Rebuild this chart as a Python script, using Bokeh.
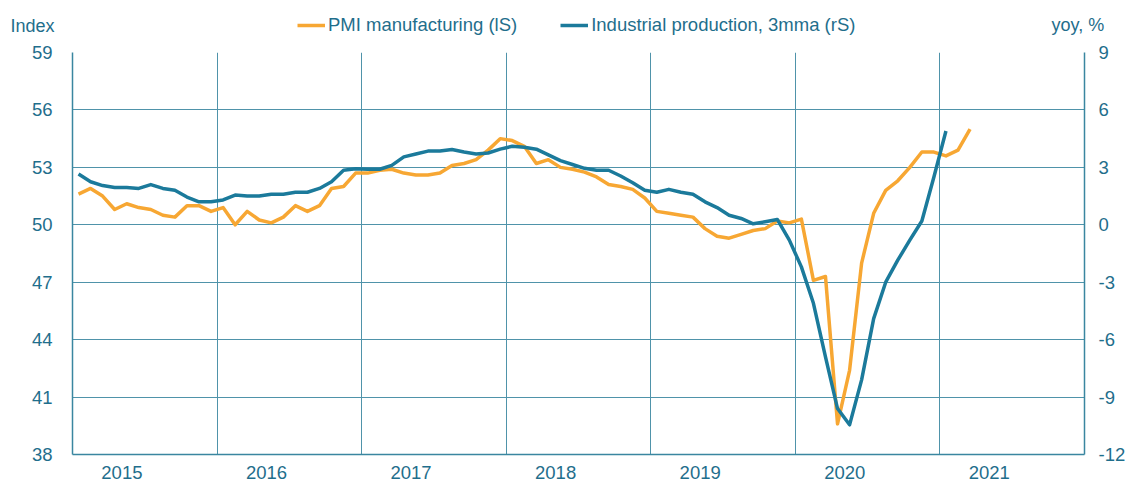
from bokeh.plotting import figure
from bokeh.layouts import column
from bokeh.models import (Range1d, LinearAxis, FixedTicker, Legend, LegendItem, Label)
from bokeh.embed import file_html
from bokeh.resources import INLINE

# ---------------- data ----------------
years = ["2015", "2016", "2017", "2018", "2019", "2020", "2021"]

# PMI manufacturing (left scale), monthly from Jan 2015
pmi = [51.6, 51.9, 51.5, 50.8, 51.1, 50.9, 50.8, 50.5, 50.4, 51.0, 51.0, 50.7,
       50.9, 50.0, 50.7, 50.25, 50.1, 50.4, 51.0, 50.7, 51.0, 51.9, 52.0, 52.7,
       52.7, 52.85, 52.9, 52.7, 52.6, 52.6, 52.7, 53.1, 53.2, 53.4, 53.9, 54.5,
       54.4, 54.1, 53.2, 53.4, 53.0, 52.9, 52.75, 52.5, 52.1, 52.0, 51.85, 51.4,
       50.7, 50.6, 50.5, 50.4, 49.8, 49.4, 49.3, 49.5, 49.7, 49.8, 50.2, 50.1,
       50.3, 47.1, 47.3, 39.6, 42.4, 48.0, 50.6, 51.8, 52.3, 53.0, 53.8, 53.8,
       53.6, 53.9, 55.0]

# Industrial production, 3mma, yoy % (right scale), monthly from Jan 2015
ip = [2.65, 2.25, 2.05, 1.95, 1.95, 1.9, 2.1, 1.9, 1.8, 1.45, 1.2, 1.2,
      1.3, 1.55, 1.5, 1.5, 1.6, 1.6, 1.7, 1.7, 1.9, 2.25, 2.85, 2.93,
      2.9, 2.9, 3.1, 3.55, 3.7, 3.85, 3.85, 3.93, 3.8, 3.7, 3.75, 3.95,
      4.1, 4.05, 3.95, 3.65, 3.35, 3.15, 2.95, 2.85, 2.85, 2.55, 2.2, 1.8,
      1.7, 1.85, 1.7, 1.6, 1.2, 0.9, 0.5, 0.33, 0.05, 0.16, 0.28, -0.8,
      -2.2, -4.1, -6.9, -9.6, -10.45, -8.1, -4.9, -3.0, -1.85, -0.8, 0.2, 2.5,
      4.9]

series_names = ["PMI manufacturing (lS)", "Industrial production, 3mma (rS)"]
left_ticks = [38, 41, 44, 47, 50, 53, 56, 59]
right_ticks = [-12, -9, -6, -3, 0, 3, 6, 9]

month_pmi = list(range(len(pmi)))
month_ip = list(range(len(ip)))

# ---------------- style ----------------
TEXT = "#1F6E8C"
GRID = "#4F93AA"
AXIS = "#3A86A0"
ORANGE = "#F7A733"
BLUE = "#1B7A9B"
FONT = "Liberation Sans"
FS = "18.5px"
W = 1130
HEAD_H = 40
NAN = float("nan")

# ---------------- header strip: unit captions + legend ----------------
head = figure(width=W, height=HEAD_H, output_backend="svg", toolbar_location=None,
              x_range=Range1d(0, W), y_range=Range1d(0, HEAD_H),
              x_axis_type=None, y_axis_type=None,
              min_border=0, min_border_left=0, min_border_right=0,
              min_border_top=0, min_border_bottom=0)
head.frame_align = False
head.outline_line_color = None
head.background_fill_color = "white"
head.border_fill_color = "white"
head.grid.visible = False

# legend keys (no visible data of their own)
k_pmi = head.line(x=[NAN], y=[NAN], line_color=ORANGE, line_width=3.5)
k_ip = head.line(x=[NAN], y=[NAN], line_color=BLUE, line_width=3.5)

legend = Legend(items=[LegendItem(label=series_names[0], renderers=[k_pmi]),
                       LegendItem(label=series_names[1], renderers=[k_ip])],
                orientation="horizontal", location=(297, 4),
                glyph_width=28, glyph_height=22, label_height=22,
                label_standoff=3, spacing=43,
                padding=0, margin=0, border_line_color=None,
                background_fill_alpha=0,
                label_text_font=FONT, label_text_font_size=FS,
                label_text_color=TEXT)
head.add_layout(legend)

head.add_layout(Label(x=10, y=15, text="Index", text_align="left",
                      text_baseline="middle", text_font=FONT, text_font_size="18px",
                      text_color=TEXT))
head.add_layout(Label(x=1051, y=16, text="yoy, %", text_align="left",
                      text_baseline="middle", text_font=FONT, text_font_size="18px",
                      text_color=TEXT))

# ---------------- main chart ----------------
p = figure(width=W, height=482 - HEAD_H, output_backend="svg", toolbar_location=None,
           x_range=Range1d(-0.5, 83.5), y_range=Range1d(38, 59),
           min_border_left=72, min_border_right=46, min_border_top=52 - HEAD_H,
           min_border_bottom=28)
p.frame_align = False
p.extra_y_ranges = {"ip": Range1d(-12, 9)}
p.outline_line_color = None
p.background_fill_color = "white"
p.border_fill_color = "white"

year_ticks = [12 * k + 3.6 for k in range(len(years))]
year_bounds = [12 * k - 0.5 for k in range(1, len(years))]

xa = p.xaxis[0]
xa.ticker = FixedTicker(ticks=year_ticks)
xa.major_label_overrides = {t: y for t, y in zip(year_ticks, years)}
xa.major_label_standoff = 11

ya = p.yaxis[0]
ya.ticker = FixedTicker(ticks=left_ticks)
ya.major_label_standoff = 20

ra = LinearAxis(y_range_name="ip", ticker=FixedTicker(ticks=right_ticks))
ra.major_label_overrides = {t: str(t) for t in right_ticks}
ra.major_label_standoff = 14
p.add_layout(ra, "right")

for ax in (xa, ya, ra):
    ax.major_tick_in = 0
    ax.major_tick_out = 0
    ax.minor_tick_in = 0
    ax.minor_tick_out = 0
    ax.major_tick_line_color = None
    ax.minor_tick_line_color = None
    ax.axis_line_color = AXIS
    ax.axis_line_width = 1.5
    ax.major_label_text_font = FONT
    ax.major_label_text_font_size = FS
    ax.major_label_text_color = TEXT

p.xgrid.ticker = FixedTicker(ticks=year_bounds)
p.ygrid.ticker = FixedTicker(ticks=left_ticks)
for g in (p.xgrid, p.ygrid):
    g.grid_line_color = GRID
    g.grid_line_width = 1

p.line(month_pmi, pmi, line_color=ORANGE, line_width=3.5, line_join="round")
p.line(month_ip, ip, line_color=BLUE, line_width=3.5, line_join="round",
       y_range_name="ip")

layout = column(head, p, spacing=0)
open("out.html", "w").write(file_html(layout, INLINE))
